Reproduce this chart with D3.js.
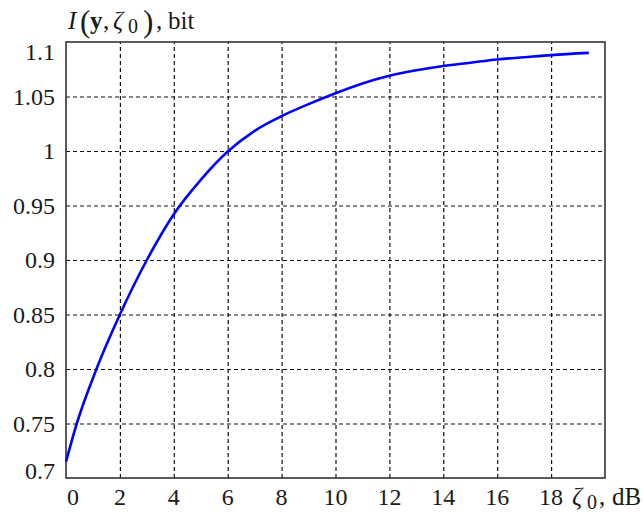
<!DOCTYPE html>
<html>
<head>
<meta charset="utf-8">
<script src="https://cdn.jsdelivr.net/npm/d3@7"></script>
<style>
  body { margin: 0; background: #fff; }
</style>
</head>
<body>
<div id="chart"></div>
<script>
const snrDb = [0, 0.4, 1.13, 2, 3, 4, 5, 6, 7, 8, 9, 10, 11, 12, 13, 14, 15, 16, 17, 18, 19.4];
const infoBits = [0.715, 0.75, 0.80, 0.85, 0.90, 0.942, 0.9735, 0.9995, 1.0185, 1.032, 1.043, 1.053, 1.062, 1.069, 1.074, 1.078, 1.081, 1.084, 1.086, 1.088, 1.090];
const xTicks = [0, 2, 4, 6, 8, 10, 12, 14, 16, 18];
const yTicks = [0.7, 0.75, 0.8, 0.85, 0.9, 0.95, 1, 1.05, 1.1];

const width = 643, height = 516;
const plotL = 66, plotR = 605, plotT = 42, plotB = 478;
const serif = "'Liberation Serif', 'DejaVu Serif', serif";

const svg = d3.select("#chart").append("svg")
  .attr("width", width)
  .attr("height", height)
  .style("font-family", serif);

const x = d3.scaleLinear().domain([0, 20]).range([plotL, plotR]);
const y = d3.scaleLinear().domain([0.7, 1.1]).range([plotB, plotT]);

// dashed grid
svg.append("g")
  .attr("transform", `translate(0,${plotB})`)
  .call(d3.axisBottom(x).tickValues(xTicks.slice(1)).tickSize(-(plotB - plotT)).tickFormat(""))
  .call(g => g.select(".domain").remove())
  .selectAll("line")
  .attr("stroke", "#111")
  .attr("stroke-width", 1.2)
  .attr("stroke-dasharray", "4,3");

svg.append("g")
  .attr("transform", `translate(${plotL},0)`)
  .call(d3.axisLeft(y).tickValues(yTicks.slice(1, -1)).tickSize(-(plotR - plotL)).tickFormat(""))
  .call(g => g.select(".domain").remove())
  .selectAll("line")
  .attr("stroke", "#111")
  .attr("stroke-width", 1.2)
  .attr("stroke-dasharray", "4,3");

// frame
svg.append("rect")
  .attr("x", plotL).attr("y", plotT)
  .attr("width", plotR - plotL).attr("height", plotB - plotT)
  .attr("fill", "none")
  .attr("stroke", "#333")
  .attr("stroke-width", 1.6);

// curve
const line = d3.line()
  .x((d, i) => x(snrDb[i]))
  .y(d => y(d))
  .curve(d3.curveMonotoneX);

svg.append("path")
  .datum(infoBits)
  .attr("d", line)
  .attr("fill", "none")
  .attr("stroke", "#0000ff")
  .attr("stroke-width", 2.6);

// tick labels
svg.append("g").selectAll("text")
  .data(yTicks)
  .join("text")
  .attr("x", 55)
  .attr("y", d => Math.min(Math.max(y(d), plotT + 10), plotB - 7))
  .attr("dy", "0.35em")
  .attr("text-anchor", "end")
  .attr("font-size", 24)
  .attr("fill", "#1a1a1a")
  .style("font-family", serif)
  .text(d => d);

svg.append("g").selectAll("text")
  .data(xTicks)
  .join("text")
  .attr("x", d => d === 0 ? x(d) + 7 : x(d))
  .attr("y", 505)
  .attr("text-anchor", "middle")
  .attr("font-size", 24)
  .attr("fill", "#1a1a1a")
  .style("font-family", serif)
  .text(d => d);

// y title: I(y, ζ0), bit
const yt = svg.append("text").attr("y", 29).attr("font-size", 25)
  .attr("fill", "#1a1a1a").style("font-family", serif);
yt.append("tspan").attr("x", 68).attr("font-style", "italic").text("I");
yt.append("tspan").attr("x", 80).attr("y", 32).attr("font-size", 31).text("(");
yt.append("tspan").attr("x", 90).attr("y", 29).attr("font-weight", "bold").text("y");
yt.append("tspan").attr("x", 103).text(",");
yt.append("tspan").attr("x", 113).attr("font-style", "italic").text("ζ");
yt.append("tspan").attr("x", 128).attr("y", 33).attr("font-size", 20).text("0");
yt.append("tspan").attr("x", 143).attr("y", 32).attr("font-size", 31).text(")");
yt.append("tspan").attr("x", 156).attr("y", 29).text(",");
yt.append("tspan").attr("x", 168).text("bit");

// x title: ζ0, dB
const xt = svg.append("text").attr("y", 505).attr("font-size", 25)
  .attr("fill", "#1a1a1a").style("font-family", serif);
xt.append("tspan").attr("x", 572).attr("font-style", "italic").text("ζ");
xt.append("tspan").attr("x", 587).attr("y", 509).attr("font-size", 20).text("0");
xt.append("tspan").attr("x", 599).attr("y", 505).text(",");
xt.append("tspan").attr("x", 612).text("dB");
</script>
</body>
</html>
